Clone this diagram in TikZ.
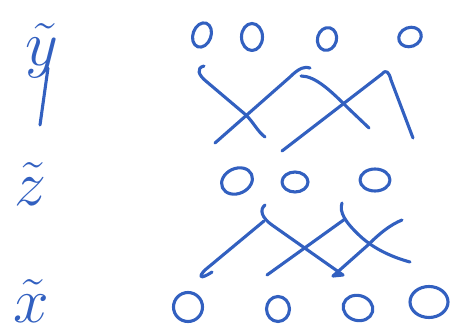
\documentclass[tikz,border=0pt]{standalone}
\usepackage{fix-cm}
\usetikzlibrary{shapes.geometric}
\definecolor{penBlue}{RGB}{50,96,192}
\begin{document}
\begin{tikzpicture}[
        x=1pt, y=-1pt,
        pen/.style={
            draw=penBlue,
            line width=3.1pt,
            line cap=round,
            line join=round
        },
        unit/.style={
            ellipse,
            pen,
            inner sep=0pt
        },
        labelText/.style={
            text=penBlue,
            font=\fontsize{64}{64}\selectfont,
            inner sep=0pt,
            anchor=base
        }
    ]
        \useasboundingbox (0,0) rectangle (455,334);

        % layer labels
        \node[labelText] (ylab) at (42,66) {$\tilde{y}$};
        \node[labelText] (zlab) at (30,205) {$\tilde{z}$};
        \node[labelText] (xlab) at (31,322) {$\tilde{x}$};
        \coordinate (yTail) at (40,125);
        \draw[pen] (48,68) -- (yTail);

        % top layer
        \node[unit, minimum width=18pt, minimum height=25pt, rotate=-20] (y1) at (202,35) {};
        \node[unit, minimum width=21pt, minimum height=27pt] (y2) at (252,37) {};
        \node[unit, minimum width=19pt, minimum height=23pt, rotate=-15] (y3) at (327,39) {};
        \node[unit, minimum width=23pt, minimum height=19pt, rotate=20] (y4) at (410,37) {};

        % middle layer
        \node[unit, minimum width=32pt, minimum height=25pt, rotate=25] (z1) at (237,181) {};
        \node[unit, minimum width=26pt, minimum height=20pt] (z2) at (295,182) {};
        \node[unit, minimum width=30pt, minimum height=22pt] (z3) at (375,180) {};

        % bottom layer
        \node[unit, minimum width=29pt, minimum height=29pt] (x1) at (188,307) {};
        \node[unit, minimum width=23pt, minimum height=25pt] (x2) at (278,309) {};
        \node[unit, minimum width=30pt, minimum height=25pt, rotate=-15] (x3) at (358,308) {};
        \node[unit, minimum width=38pt, minimum height=31pt] (x4) at (429,302) {};

        % strokes between top and middle
        \coordinate (t1a) at (204,66);
        \coordinate (t1b) at (265,137);
        \coordinate (t2a) at (215,143);
        \coordinate (t2b) at (310,68);
        \coordinate (t3a) at (301,76);
        \coordinate (t3b) at (369,128);
        \coordinate (t4a) at (282,151);
        \coordinate (t4b) at (413,138);

        \draw[pen] (t1a) .. controls (196,68) and (198,75) .. (207,82) -- (246,115) .. controls (254,123) and (258,132) .. (t1b);
        \draw[pen] (t2a) -- (290,77) .. controls (299,68) and (305,66) .. (t2b);
        \draw[pen] (t3a) .. controls (315,76) and (330,90) .. (348,108) -- (t3b);
        \draw[pen] (t4a) -- (382,74) .. controls (386,69) and (389,72) .. (391,80) -- (t4b);

        % strokes between middle and bottom
        \coordinate (b1a) at (265,205);
        \coordinate (b1b) at (343,275);
        \coordinate (b2a) at (264,221);
        \coordinate (b2b) at (212,272);
        \coordinate (b3a) at (342,203);
        \coordinate (b3b) at (410,262);
        \coordinate (b4a) at (267,275);
        \coordinate (b4b) at (345,219);
        \coordinate (b5a) at (333,276);
        \coordinate (b5b) at (402,220);

        \draw[pen] (b1a) .. controls (259,210) and (262,218) .. (272,225) -- (b1b) -- (b5a);
        \draw[pen] (b2a) -- (205,270) .. controls (198,277) and (200,280) .. (b2b);
        \draw[pen] (b3a) .. controls (339,212) and (345,222) .. (360,236) .. controls (375,250) and (395,258) .. (b3b);
        \draw[pen] (b4a) -- (b4b);
        \draw[pen] (b5a) -- (368,245) .. controls (380,233) and (390,225) .. (b5b);

    \end{tikzpicture}
\end{document}
